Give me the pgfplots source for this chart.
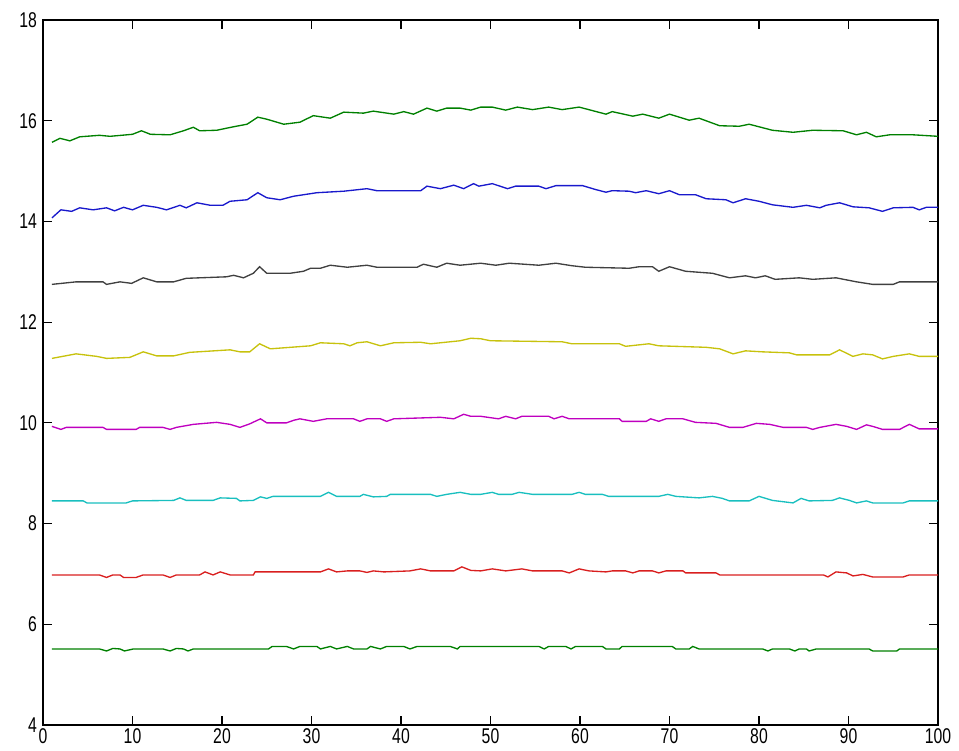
\documentclass[border=0pt]{standalone}
\usepackage{pgfplots}
\pgfplotsset{compat=1.18}
\usepackage{fontspec}
\setmainfont{Liberation Sans}[FakeStretch=0.74]

\definecolor{mgreen}{rgb}{0,0.5,0}
\definecolor{mblue}{rgb}{0.1,0.1,0.8}
\definecolor{mgray}{rgb}{0.25,0.25,0.25}
\definecolor{myellow}{rgb}{0.78,0.76,0.05}
\definecolor{mmagenta}{rgb}{0.75,0,0.75}
\definecolor{mcyan}{rgb}{0.1,0.75,0.75}
\definecolor{mred}{rgb}{0.85,0.12,0.12}

\begin{document}
\begin{tikzpicture}
\begin{axis}[
    name=ax,
    scale only axis,
    width=671.25pt, height=528.75pt,
    xmin=0, xmax=100,
    ymin=4, ymax=18,
    xtick={0,10,...,100},
    ytick={4,6,...,18},
    tick align=inside,
    major tick length=7pt,
    tick style={black, line width=0.8pt},
    axis line style={black, line width=0.8pt},
    ticklabel style={font=\fontsize{16}{16}\selectfont},
    /pgf/number format/assume math mode=true,
    xticklabel style={yshift=1pt},
    yticklabel style={xshift=-1pt},
    every axis plot/.append style={line width=1pt},
]

% top green
\addplot[mgreen] coordinates {
(1,15.57)(1.9,15.65)(3,15.6)(4.1,15.68)(6.3,15.71)(7.5,15.69)(10,15.73)(11,15.8)(12,15.73)(14.2,15.72)
(15.7,15.8)(16.8,15.87)(17.5,15.8)(19.4,15.81)(21.3,15.88)(22.8,15.93)(24,16.07)(25,16.03)(26.9,15.93)(28.7,15.97)
(30.2,16.1)(32.1,16.05)(33.6,16.17)(35.8,16.15)(36.9,16.19)(39.2,16.13)(40.3,16.18)(41.4,16.13)(42.9,16.25)(44,16.19)
(45.1,16.25)(46.6,16.25)(47.8,16.21)(48.9,16.27)(50.2,16.27)(51.7,16.21)(53,16.27)(54.7,16.22)(56.5,16.27)(58,16.22)
(59.9,16.27)(61.4,16.2)(62.9,16.13)(63.6,16.18)(65.9,16.09)(67,16.13)(68.8,16.05)(70,16.13)(72.2,16.01)(73.3,16.05)
(75.6,15.9)(77.8,15.89)(78.9,15.93)(81.5,15.81)(83.8,15.77)(86,15.81)(89.4,15.8)(90.9,15.72)(92,15.77)(93.1,15.68)
(94.6,15.72)(97.2,15.72)(100,15.69)
};

% blue
\addplot[mblue] coordinates {
(1,14.07)(2,14.23)(3.2,14.2)(4.1,14.27)(5.6,14.23)(7.1,14.27)(8,14.21)(9,14.28)(10,14.23)(11.2,14.32)
(12.7,14.28)(13.8,14.23)(15.3,14.32)(16,14.27)(17.2,14.37)(18.7,14.32)(20.1,14.32)(20.9,14.4)(22.8,14.43)(24,14.57)
(25,14.47)(26.5,14.43)(28,14.5)(30.6,14.57)(33.6,14.6)(36.2,14.65)(37.3,14.61)(42.2,14.61)(42.9,14.7)(44.4,14.65)
(45.9,14.72)(47,14.65)(48.1,14.75)(48.7,14.7)(50.2,14.75)(51.9,14.65)(52.8,14.7)(55.4,14.7)(56.2,14.65)(57.3,14.71)
(60.3,14.71)(61.8,14.63)(62.9,14.58)(63.6,14.61)(65.5,14.6)(66.2,14.57)(67.4,14.61)(68.8,14.55)(70,14.61)(71.1,14.53)
(72.9,14.53)(74.1,14.45)(76.3,14.43)(77.1,14.37)(78.5,14.45)(80,14.4)(81.5,14.33)(83.8,14.28)(85.3,14.32)(86.8,14.27)
(87.5,14.32)(89,14.37)(90.5,14.29)(92.3,14.27)(93.8,14.2)(95,14.27)(97.2,14.28)(97.9,14.23)(98.7,14.28)(100,14.28)
};

% gray
\addplot[mgray] coordinates {
(1,12.75)(3.7,12.8)(6.7,12.8)(7.1,12.75)(8.6,12.8)(9.9,12.77)(11.2,12.88)(12.7,12.8)(14.6,12.8)(16,12.87)
(20.5,12.9)(21.3,12.93)(22.4,12.88)(23.5,12.97)(24.2,13.1)(25,12.97)(27.6,12.97)(29.1,13.01)(29.9,13.07)(31,13.07)
(32.1,13.13)(34,13.09)(36.2,13.13)(37.3,13.09)(41.8,13.09)(42.5,13.15)(44,13.09)(45.1,13.17)(46.6,13.13)(48.9,13.17)
(50.6,13.13)(52.1,13.17)(55.4,13.13)(57.3,13.17)(59.1,13.12)(60.6,13.09)(65.5,13.07)(66.6,13.1)(68.1,13.1)(68.8,13.01)
(70,13.1)(71.8,13.01)(74.8,12.97)(76.7,12.88)(78.5,12.92)(79.6,12.88)(80.7,12.92)(81.8,12.85)(84.5,12.88)(86,12.85)
(88.6,12.88)(90.9,12.8)(92.7,12.75)(95,12.75)(95.7,12.8)(100,12.8)
};

% yellow
\addplot[myellow] coordinates {
(1,11.28)(3.7,11.37)(6,11.32)(7.1,11.28)(9.7,11.3)(11.2,11.41)(12.7,11.33)(14.6,11.33)(16.4,11.4)(20.9,11.45)
(22,11.41)(23.1,11.41)(24.2,11.57)(25.4,11.47)(29.9,11.53)(31,11.59)(33.6,11.57)(34.3,11.53)(35.1,11.59)(36.2,11.61)
(37.7,11.53)(39.2,11.59)(42.2,11.6)(43.3,11.57)(46.6,11.63)(47.8,11.68)(48.9,11.67)(50,11.63)(58,11.61)(59.1,11.57)
(64.4,11.57)(65.1,11.52)(67.7,11.57)(68.8,11.53)(74.1,11.5)(75.6,11.47)(77.1,11.37)(78.5,11.43)(80.4,11.41)(83.4,11.39)
(84.2,11.35)(87.9,11.35)(89,11.45)(90.5,11.32)(91.6,11.37)(92.7,11.35)(93.8,11.27)(95,11.32)(96.8,11.37)(97.9,11.32)
(100,11.32)
};

% magenta
\addplot[mmagenta] coordinates {
(1,9.93)(2,9.87)(2.6,9.91)(6.7,9.91)(7.1,9.87)(10.4,9.87)(10.8,9.91)(13.4,9.91)(14.2,9.87)(14.9,9.91)
(16.8,9.97)(19.4,10.01)(20.9,9.97)(22,9.91)(23.1,9.98)(24.3,10.08)(25,10)(27.2,10)(28,10.05)(28.7,10.08)
(30.2,10.03)(31.7,10.08)(34.7,10.08)(35.4,10.03)(36.2,10.08)(37.7,10.08)(38.4,10.03)(39.2,10.08)(44.4,10.11)(45.9,10.08)
(47,10.17)(47.8,10.13)(48.9,10.13)(50.9,10.08)(51.7,10.13)(52.8,10.08)(53.5,10.13)(56.5,10.13)(57.1,10.08)(58,10.13)
(58.8,10.08)(64.4,10.08)(64.7,10.03)(67.4,10.03)(67.9,10.08)(68.8,10.03)(69.6,10.08)(71.5,10.08)(72.9,10.01)(75.2,9.99)
(76.7,9.91)(78.2,9.91)(79.7,9.99)(81.2,9.97)(82.7,9.91)(85.3,9.91)(86,9.87)(86.8,9.91)(88.6,9.97)(89.8,9.93)
(90.9,9.87)(92,9.96)(92.7,9.93)(93.8,9.87)(95.7,9.87)(96.8,9.97)(97.9,9.88)(100,9.88)
};

% cyan
\addplot[mcyan] coordinates {
(1,8.45)(4.5,8.45)(4.9,8.41)(9.3,8.41)(10,8.45)(14.6,8.46)(15.3,8.51)(16,8.46)(19,8.46)(19.8,8.51)
(21.6,8.5)(22,8.45)(23.5,8.46)(24.3,8.53)(25,8.5)(25.7,8.54)(31,8.54)(31.9,8.62)(32.8,8.54)(35.4,8.54)
(35.8,8.58)(36.9,8.53)(38.4,8.54)(38.8,8.58)(43.3,8.58)(44,8.54)(45.1,8.58)(46.6,8.62)(47.8,8.58)(48.9,8.58)
(50.2,8.62)(50.9,8.58)(52.4,8.58)(53.2,8.62)(54.7,8.58)(59.1,8.58)(59.9,8.62)(60.6,8.58)(62.5,8.58)(63.2,8.54)
(68.8,8.54)(69.8,8.58)(70.7,8.54)(73.3,8.51)(74.8,8.54)(75.9,8.5)(76.7,8.45)(78.9,8.45)(80,8.54)(81.5,8.46)
(83.8,8.41)(84.7,8.5)(85.6,8.45)(88.2,8.46)(89,8.51)(90.1,8.46)(90.9,8.41)(92,8.45)(92.7,8.41)(96.1,8.41)
(96.8,8.45)(100,8.45)
};

% red
\addplot[mred] coordinates {
(1,6.98)(6.3,6.98)(7.1,6.93)(7.8,6.98)(8.6,6.98)(9,6.93)(10.4,6.93)(11.2,6.98)(13.4,6.98)(14.2,6.93)
(14.9,6.98)(17.5,6.98)(18.1,7.04)(19,6.98)(19.8,7.04)(20.9,6.98)(23.5,6.98)(23.7,7.04)(31,7.04)(31.9,7.1)
(32.8,7.04)(34,7.06)(35.4,7.06)(36.2,7.03)(36.9,7.06)(38.1,7.04)(41,7.06)(42.2,7.1)(43.3,7.06)(45.9,7.06)
(46.8,7.14)(47.8,7.07)(48.9,7.06)(50.2,7.1)(51.7,7.06)(53.5,7.1)(54.7,7.06)(58,7.06)(58.8,7.02)(59.9,7.1)
(61,7.06)(62.9,7.04)(63.6,7.06)(65.1,7.06)(65.9,7.02)(66.6,7.06)(68.1,7.06)(68.8,7.02)(69.6,7.06)(71.5,7.06)
(71.8,7.02)(75.2,7.02)(75.6,6.98)(87.2,6.98)(87.7,6.94)(88.6,7.04)(89.8,7.02)(90.5,6.96)(91.6,6.99)(92.7,6.94)
(96.1,6.94)(96.8,6.98)(100,6.98)
};

% bottom green
\addplot[mgreen] coordinates {
(1,5.51)(6.3,5.51)(7.1,5.47)(7.8,5.52)(8.6,5.51)(9.1,5.47)(10.1,5.51)(13.4,5.51)(14.2,5.47)(14.9,5.52)
(15.7,5.51)(16.2,5.47)(16.8,5.51)(25.2,5.51)(25.6,5.56)(27.2,5.56)(28,5.51)(28.7,5.56)(30.6,5.56)(31,5.51)
(32.1,5.56)(32.8,5.51)(34,5.56)(34.7,5.51)(36.2,5.51)(36.6,5.56)(37.7,5.51)(38.4,5.56)(40.3,5.56)(41,5.51)
(41.8,5.56)(45.5,5.56)(46.3,5.51)(46.6,5.56)(55.4,5.56)(56,5.51)(56.5,5.56)(58.4,5.56)(59,5.51)(59.5,5.56)
(62.5,5.56)(62.9,5.51)(64.4,5.51)(64.7,5.56)(70.3,5.56)(70.7,5.51)(72.2,5.51)(72.6,5.56)(73.3,5.51)(80.4,5.51)
(81,5.47)(81.5,5.51)(83.4,5.51)(84,5.47)(84.5,5.51)(85.3,5.51)(85.6,5.47)(86.4,5.51)(92.3,5.51)(92.7,5.47)
(95.4,5.47)(95.7,5.51)(100,5.51)
};

\end{axis}
\path ([shift={(-32.25pt,-19.5pt)}]ax.south west) rectangle ([shift={(15.75pt,15pt)}]ax.north east);
\end{tikzpicture}
\end{document}
